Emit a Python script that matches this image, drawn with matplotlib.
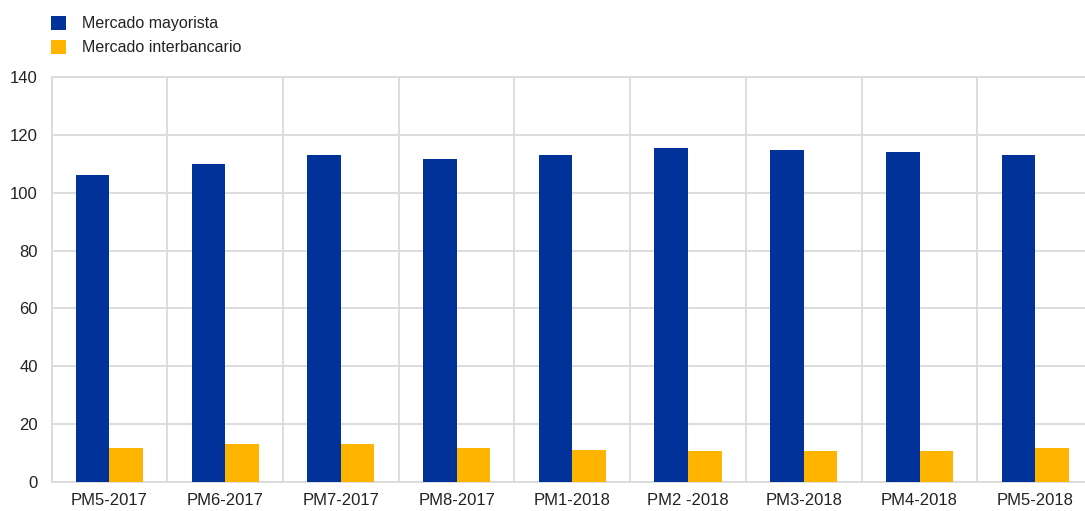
import matplotlib
matplotlib.use("Agg")
import matplotlib.pyplot as plt
import numpy as np

# ── data ──
categories = ['PM5-2017', 'PM6-2017', 'PM7-2017', 'PM8-2017', 'PM1-2018',
              'PM2 -2018', 'PM3-2018', 'PM4-2018', 'PM5-2018']
mayorista = [106.0, 109.7, 113.0, 111.6, 113.0, 115.4, 114.7, 114.1, 113.0]
interbancario = [11.9, 13.3, 13.3, 11.9, 11.3, 10.7, 10.7, 10.7, 11.9]
y_ticks = [0, 20, 40, 60, 80, 100, 120, 140]

BLUE = '#003299'
YELLOW = '#FFB400'
GRID = '#dadada'

plt.rcParams['font.family'] = ['Liberation Sans', 'DejaVu Sans']

fig = plt.figure(figsize=(10.85, 5.11), dpi=100)
ax = fig.add_axes([0.0475, 0.056, 0.9525, 0.794])

x = np.arange(len(categories))
w = 0.29
ax.bar(x - w / 2, mayorista, w, color=BLUE, label='Mercado mayorista', zorder=3)
ax.bar(x + w / 2, interbancario, w, color=YELLOW, label='Mercado interbancario', zorder=3)

ax.set_ylim(0, 140)
ax.set_yticks(y_ticks)
ax.set_xlim(-0.5, 8.43)
ax.set_xticks(x)
ax.set_xticklabels(categories)
ax.set_xticks(np.arange(-0.5, 8.5, 1), minor=True)

# grid: horizontal at y ticks, vertical at category borders
ax.grid(axis='y', which='major', color=GRID, linewidth=1.3, zorder=0)
ax.grid(axis='x', which='minor', color=GRID, linewidth=1.3, zorder=0)
ax.grid(axis='x', which='major', visible=False)

for side in ['left', 'bottom', 'top']:
    ax.spines[side].set_color(GRID)
    ax.spines[side].set_linewidth(1.3)
ax.spines['right'].set_visible(False)

ax.tick_params(axis='both', which='both', length=0, labelsize=12, colors='#222222')
ax.tick_params(axis='x', pad=8)
ax.tick_params(axis='y', pad=10)

fig.legend(loc='upper left', bbox_to_anchor=(0.047, 0.969), frameon=False,
           fontsize=11.5, handlelength=0.95, handleheight=0.95,
           handletextpad=1.0, labelspacing=0.55, borderpad=0,
           borderaxespad=0, labelcolor='#222222')

plt.savefig('out.png', dpi=100)
